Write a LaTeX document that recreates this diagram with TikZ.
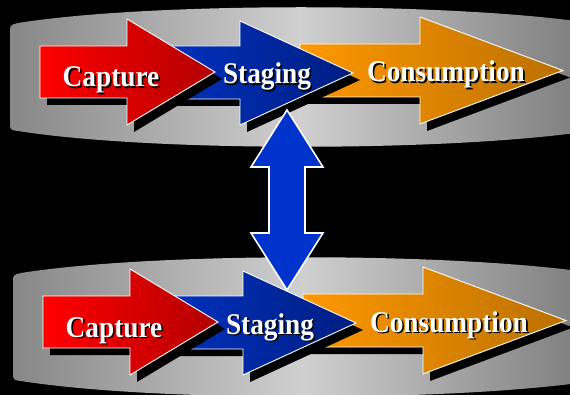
\documentclass[tikz,border=0pt]{standalone}
\usepackage{fontspec}
\setmainfont{Liberation Serif}
\usepackage{tikz}
\usetikzlibrary{positioning}
\definecolor{captureRed}{RGB}{255,0,0}
\definecolor{captureDark}{RGB}{178,0,0}
\definecolor{stageBlue}{RGB}{0,52,200}
\definecolor{stageDark}{RGB}{0,30,130}
\definecolor{consumeOrange}{RGB}{255,152,0}
\definecolor{consumeDark}{RGB}{186,112,0}
\definecolor{diskEdge}{RGB}{135,135,135}
\definecolor{diskMid}{RGB}{208,208,208}
\definecolor{linkBlue}{RGB}{0,51,204}

\tikzset{
  flowshadow/.style={fill=black},
  flowarrow/.style={draw=white, line width=0.9pt, line join=miter},
  disk/.style={left color=diskEdge, right color=diskEdge!110, middle color=diskMid},
  steplabel/.style={text=white, font=\fontsize{27.3}{30}\selectfont\bfseries,
    yscale=1.1, anchor=base, inner sep=0pt},
}

% arrow: left colour, right colour, body left, head base, tip, body top, body bottom, head top, head bottom
\newcommand\stagearrow[9]{%
  \fill[flowshadow, shift={(7,7)}] (#3,#6) -- (#4,#6) -- (#4,#8) -- (#5,{(#8+#9)/2})
    -- (#4,#9) -- (#4,#7) -- (#3,#7) -- cycle;
  \draw[flowarrow, left color=#1, right color=#2] (#3,#6) -- (#4,#6) -- (#4,#8)
    -- (#5,{(#8+#9)/2}) -- (#4,#9) -- (#4,#7) -- (#3,#7) -- cycle;}

% label with its drop shadow, in one node
\newcommand\steptext[3]{%
  \node[steplabel] (#1) at (#2)
    {\makebox[0pt][l]{\kern1.6pt\raisebox{-1.6pt}{\color{black}#3}}#3};}

\begin{document}
\begin{tikzpicture}[x=1pt, y=-1pt]
  \useasboundingbox (0,0) rectangle (570,395);
  \fill[black] (0,0) rectangle (570,395);

  \foreach \row/\dx/\dy in {top/0/0, bottom/3/250} {
    \begin{scope}[shift={(\dx,\dy)}]
      % Disk
      \shade[disk] (10,33) .. controls (10,25) .. (18,23)
        .. controls (150,2) and (450,2) .. (590,23) -- (590,131)
        .. controls (450,152) and (150,152) .. (18,131)
        .. controls (10,130) .. (10,122) -- cycle;
      % Arrows, back to front
      \stagearrow{consumeOrange}{consumeDark}{300}{420}{563}{44}{97}{17}{124}
      \stagearrow{stageBlue}{stageDark}{130}{240}{353}{46}{99}{21}{125}
      \stagearrow{captureRed}{captureDark}{40}{127}{215}{46}{98}{19}{125}
      % Labels
      \steptext{capture-\row}{111,87}{Capture}
      \steptext{staging-\row}{267,84}{Staging}
      \steptext{consumption-\row}{446,82}{Consumption}
    \end{scope}
  }

  % Link between the two rows
  \draw[flowarrow, line width=1.6pt, fill=linkBlue] (287,110) -- (323,167) -- (305,167)
    -- (305,233) -- (323,233) -- (287,290) -- (251,233) -- (269,233) -- (269,167)
    -- (251,167) -- cycle;
\end{tikzpicture}
\end{document}
